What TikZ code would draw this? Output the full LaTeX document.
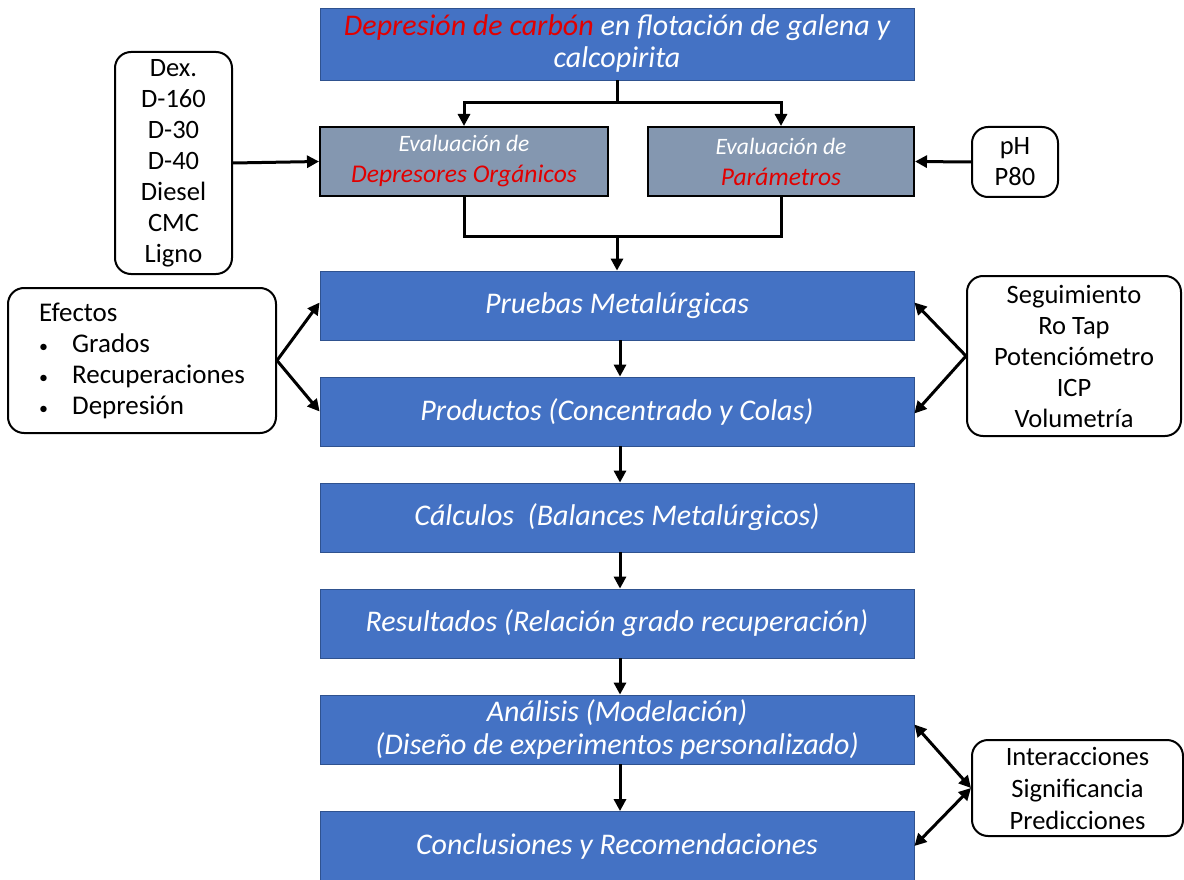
\documentclass[tikz,border=0pt]{standalone}
\usepackage{fontspec}
\setmainfont{Carlito}
\usetikzlibrary{arrows.meta}
\definecolor{mblue}{HTML}{4472C4}
\definecolor{mblueb}{HTML}{2F528F}
\definecolor{mgray}{HTML}{8497B0}
\definecolor{mred}{RGB}{226,0,0}
\newcommand{\bul}{\makebox[33pt][l]{\fontsize{18}{18}\selectfont\textbullet}}
\begin{document}
\begin{tikzpicture}[x=1pt,y=-1pt,
  mainbox/.style={fill=mblue,draw=mblueb,line width=0.8pt,minimum width=594pt,minimum height=69pt,
    text=white,font=\itshape\fontsize{30}{33}\selectfont,align=center,inner sep=0pt},
  graybox/.style={fill=mgray,draw=black,line width=2pt,minimum height=69pt,
    text=white,font=\itshape\fontsize{23.5}{31}\selectfont,align=center,inner sep=0pt},
  sidebox/.style={draw=black,line width=2pt,rounded corners=16pt,fill=white,
    font=\fontsize{26.5}{31}\selectfont,align=center,inner sep=0pt},
  arr/.style={line width=3pt,-{Triangle[length=12pt,width=12pt]}},
  darr/.style={line width=3pt,{Triangle[length=12pt,width=12pt]}-{Triangle[length=12pt,width=12pt]}},
  ln/.style={line width=3pt}]
\useasboundingbox (0,0) rectangle (1184,880);
\node[mainbox,minimum height=72pt,font=\itshape\fontsize{30}{32}\selectfont] (t) at (617,44) {\textcolor{mred}{Depresión de carbón} en flotación de galena y\\calcopirita};
\node[graybox,minimum width=288pt] (gl) at (464,161.5) {Evaluación de\\\textcolor{mred}{\fontsize{25.5}{31}\selectfont Depresores Orgánicos}};
\node[graybox,minimum width=266pt] (gr) at (781,161.5) {Evaluación de\\\textcolor{mred}{\fontsize{25.5}{31}\selectfont Parámetros}};
\node[sidebox,minimum width=117pt,minimum height=222pt] (dx) at (173.5,163) {Dex.\\D-160\\D-30\\D-40\\Diesel\\CMC\\Ligno};
\node[sidebox,minimum width=86pt,minimum height=70pt] (ph) at (1015,162) {pH\\P80};
\node[mainbox] (pr) at (617,305.5) {Pruebas Metalúrgicas};
\node[mainbox] (pd) at (617,411.5) {Productos (Concentrado y Colas)};
\node[mainbox] (ca) at (617,517.5) {Cálculos\ \ (Balances Metalúrgicos)};
\node[mainbox] (re) at (617,623.5) {Resultados (Relación grado recuperación)};
\node[mainbox] (an) at (617,729.5) {Análisis (Modelación)\\(Diseño de experimentos personalizado)};
\node[mainbox] (co) at (617,846) {Conclusiones y Recomendaciones};
\node[sidebox,align=left,minimum width=268pt,minimum height=145pt,font=\fontsize{27}{31}\selectfont] (ef) at (142,360.5)
  {Efectos\\\bul Grados\\\bul Recuperaciones\\\bul Depresión};
\node[sidebox,minimum width=214pt,minimum height=160pt] (sg) at (1074,356) {Seguimiento\\Ro Tap\\Potenciómetro\\ICP\\Volumetría};
\node[sidebox,minimum width=211pt,minimum height=96pt,font=\fontsize{26.5}{32}\selectfont] (in) at (1077.5,788) {Interacciones\\Significancia\\Predicciones};
\coordinate (j1) at (617,103);
\coordinate (j2) at (617,236);
% top split
\draw[ln] (t.south) -- (j1);
\draw[arr] (j1) -| (gl.north);
\draw[arr] (j1) -| (gr.north);
% merge
\draw[ln] (gl.south) |- (j2);
\draw[ln] (gr.south) |- (j2);
\draw[arr] (j2) -- (pr.north);
% side inputs
\draw[arr] (dx.east) -- (gl.west);
\draw[arr] (ph.west) -- (gr.west -| gr.east);
\draw[arr] (ef.east) -- ([yshift=3pt]pr.west);
\draw[arr] (ef.east) -- (pd.west);
\draw[arr] (sg.west) -- ([yshift=3pt]pr.east);
\draw[arr] (sg.west) -- ([yshift=-2pt]pd.east);
\draw[darr] (in.west) -- ([yshift=5pt]an.east);
\draw[darr] (in.west) -- (co.east);
% main chain
\draw[arr] ([xshift=3pt]pr.south) -- ([xshift=3pt]pd.north);
\draw[arr] ([xshift=3pt]pd.south) -- ([xshift=3pt]ca.north);
\draw[arr] ([xshift=3pt]ca.south) -- ([xshift=3pt]re.north);
\draw[arr] ([xshift=3pt]re.south) -- ([xshift=3pt]an.north);
\draw[arr] ([xshift=3pt]an.south) -- ([xshift=3pt]co.north);
\end{tikzpicture}
\end{document}
